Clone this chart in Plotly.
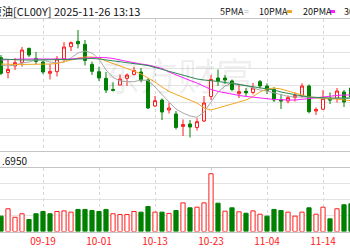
import plotly.graph_objects as go

# ---------------- data ----------------
dates = ["09-11", "09-12", "09-15", "09-16", "09-17", "09-18", "09-19", "09-22", "09-23", "09-24",
         "09-25", "09-26", "09-29", "09-30", "10-01", "10-02", "10-03", "10-06", "10-07", "10-08",
         "10-09", "10-10", "10-13", "10-14", "10-15", "10-16", "10-17", "10-20", "10-21", "10-22",
         "10-23", "10-24", "10-27", "10-28", "10-29", "10-30", "10-31", "11-03", "11-04", "11-05",
         "11-06", "11-07", "11-10", "11-11", "11-12", "11-13", "11-14", "11-17", "11-18", "11-19",
         "11-20"]

opens = [63.52, 62.19, 62.77, 63.09, 64.35, 63.45, 63.13, 62.11, 62.26, 63.40,
         64.51, 64.99, 64.72, 62.92, 62.26, 61.66, 60.66, 61.06, 61.66, 62.01,
         62.23, 61.51, 59.17, 59.71, 58.81, 58.45, 57.33, 57.55, 57.24, 57.82,
         60.03, 61.69, 61.69, 61.42, 60.28, 60.49, 60.39, 61.36, 60.97, 60.66,
         59.73, 59.62, 59.94, 60.07, 60.97, 58.72, 58.88, 59.80, 59.86, 60.43,
         60.79]
highs = [63.76, 63.31, 63.49, 64.48, 64.44, 64.03, 63.22, 62.95, 63.67, 64.93,
         64.98, 66.01, 65.11, 63.16, 62.71, 62.23, 61.29, 62.02, 62.10, 62.71,
         62.59, 61.65, 60.07, 59.85, 59.44, 58.72, 57.96, 57.91, 58.05, 60.07,
         61.96, 62.46, 61.96, 61.56, 61.15, 60.79, 61.24, 61.51, 61.21, 60.88,
         60.25, 60.12, 60.39, 61.21, 61.11, 59.04, 60.61, 60.39, 60.79, 60.61,
         61.06]
lows = [61.96, 61.66, 62.41, 62.71, 63.58, 62.91, 62.05, 61.56, 61.83, 63.16,
        64.12, 64.36, 62.82, 61.96, 61.42, 60.34, 60.48, 61.02, 60.97, 61.93,
        61.29, 58.90, 59.08, 57.91, 58.50, 57.06, 56.47, 56.34, 56.97, 57.73,
        59.71, 60.97, 61.15, 60.52, 59.89, 59.98, 60.21, 60.75, 60.25, 59.53,
        58.90, 59.41, 59.58, 59.94, 58.51, 58.36, 58.81, 59.35, 59.49, 59.08,
        59.80]
closes = [62.11, 62.46, 63.07, 64.21, 63.76, 63.18, 62.23, 62.28, 63.40, 64.48,
          64.87, 64.77, 63.27, 62.29, 61.69, 60.61, 60.57, 61.60, 61.96, 62.37,
          61.48, 58.99, 59.65, 58.63, 58.99, 57.24, 57.51, 57.28, 57.76, 59.44,
          61.56, 61.42, 61.51, 60.66, 60.46, 60.36, 60.79, 60.97, 60.57, 59.71,
          59.62, 59.92, 60.12, 60.97, 58.66, 58.86, 59.86, 59.71, 60.52, 59.53,
          59.98]

ma5 = [62.86, 62.77, 62.86, 63.04, 63.13, 63.31, 63.31, 63.13, 63.04, 63.13,
       63.49, 63.94, 64.12, 63.94, 63.40, 62.41, 61.74, 61.42, 61.36, 61.36,
       61.51, 61.47, 60.88, 60.16, 59.53, 58.90, 58.54, 58.27, 58.15, 58.63,
       59.53, 60.43, 60.97, 61.24, 61.15, 61.02, 60.79, 60.61, 60.52, 60.34,
       60.16, 60.03, 59.98, 60.01, 59.98, 59.89, 59.86, 59.80, 59.85, 59.85,
       59.89]
ma10 = [62.95, 62.91, 62.91, 62.91, 62.91, 62.91, 62.91, 62.95, 63.00, 63.13,
        63.31, 63.49, 63.58, 63.58, 63.49, 63.22, 63.00, 62.73, 62.55, 62.32,
        62.05, 61.69, 61.33, 60.88, 60.48, 60.21, 59.94, 59.71, 59.44, 58.99,
        58.81, 58.99, 59.17, 59.31, 59.47, 59.71, 60.03, 60.43, 60.70, 60.79,
        60.70, 60.52, 60.30, 60.12, 59.98, 59.92, 59.89, 59.86, 59.80, 59.71,
        59.65]
ma20 = [63.31, 63.36, 63.40, 63.40, 63.40, 63.40, 63.36, 63.36, 63.36, 63.36,
        63.40, 63.45, 63.49, 63.52, 63.54, 63.52, 63.45, 63.31, 63.18, 63.04,
        62.95, 62.86, 62.73, 62.55, 62.23, 61.96, 61.69, 61.47, 61.24, 60.97,
        60.66, 60.48, 60.34, 60.21, 60.12, 60.03, 59.98, 59.89, 59.83, 59.76,
        59.71, 59.71, 59.71, 59.76, 59.85, 59.91, 59.98, 60.07, 60.12, 60.16,
        60.16]
ma30 = [63.40, 63.36, 63.31, 63.31, 63.31, 63.31, 63.31, 63.31, 63.31, 63.31,
        63.36, 63.40, 63.45, 63.45, 63.40, 63.31, 63.27, 63.18, 63.09, 63.00,
        62.91, 62.82, 62.64, 62.46, 62.28, 62.10, 61.92, 61.74, 61.60, 61.51,
        61.47, 61.38, 61.29, 61.20, 61.11, 61.02, 60.93, 60.84, 60.70, 60.61,
        60.43, 60.30, 60.16, 60.07, 59.98, 59.94, 59.89, 59.89, 59.89, 59.89,
        59.89]

volumes = [9.6, 14.2, 8.9, 11.1, 7.5, 11.1, 12.5, 11.1, 12.5, 12.9,
           12.1, 13.8, 13.8, 13.1, 12.5, 13.8, 11.1, 10.6, 10.6, 12.5,
           12.1, 15.6, 12.1, 12.1, 11.3, 13.1, 17.9, 14.8, 15.2, 17.9,
           36.1, 17.7, 12.7, 14.8, 12.3, 11.4, 12.9, 10.8, 9.6, 13.8,
           13.1, 12.1, 9.6, 12.1, 14.8, 10.8, 15.2, 7.9, 14.2, 16.7,
           17.3]
vol_up = [0, 1, 1, 1, 0, 0, 0, 0, 1, 1,
          1, 0, 0, 0, 0, 0, 1, 1, 1, 1,
          0, 0, 1, 0, 1, 0, 1, 0, 1, 1,
          1, 0, 1, 0, 1, 0, 1, 1, 0, 0,
          0, 1, 1, 1, 0, 1, 1, 0, 1, 0,
          0]

tick_labels = ["09-19", "10-01", "10-13", "10-23", "11-04", "11-14"]
prev_label = "09-09"

title_text = "原油[CL00Y] 2025-11-26 13:13"
vol_text = ".6950"
ma_names = ["5PMA", "10PMA", "20PMA", "30PMA"]

# ---------------- style ----------------
W, H = 350, 250
RED = "#ff1a1a"
GREEN = "#008000"
MA_COLORS = ["#a9a9a9", "#f5a623", "#ff20ff", "#2f8a56"]
GRID = "#e3e3e3"
BORDER = "#c4c4c4"
FONT = "Noto Sans CJK SC, Noto Sans, sans-serif"

def fx(px):
    return px / W

def fy(py):
    return 1 - py / H

xs = list(range(len(dates)))
tick_pos = [dates.index(t) for t in tick_labels]

fig = go.Figure()

fig.add_trace(go.Candlestick(
    x=xs, open=opens, high=highs, low=lows, close=closes,
    increasing=dict(line=dict(color=RED, width=1), fillcolor="white"),
    decreasing=dict(line=dict(color=GREEN, width=1), fillcolor=GREEN),
    whiskerwidth=0, xaxis="x", yaxis="y", showlegend=False, hoverinfo="skip"))

for name, vals, col in zip(ma_names, [ma5, ma10, ma20, ma30], MA_COLORS):
    fig.add_trace(go.Scatter(x=xs, y=vals, mode="lines", name=name,
                             line=dict(color=col, width=1), xaxis="x", yaxis="y",
                             showlegend=False, hoverinfo="skip"))

fig.add_trace(go.Bar(
    x=xs, y=volumes, width=0.6,
    marker=dict(color=["white" if u else GREEN for u in vol_up],
                line=dict(color=[RED if u else GREEN for u in vol_up], width=1)),
    xaxis="x2", yaxis="y2", showlegend=False, hoverinfo="skip"))

xr = [-1 / 7.0, 50 - 1 / 7.0]
fig.update_layout(
    width=W, height=H, margin=dict(l=0, r=0, t=0, b=0),
    paper_bgcolor="white", plot_bgcolor="white",
    boxgap=0.4,
    font=dict(family=FONT, size=10, color="#000"),
    xaxis=dict(domain=[0, 1], range=xr, anchor="y", tickvals=tick_pos,
               showticklabels=False, showgrid=True, gridcolor="#d6d6d6",
               griddash="3px,3px", gridwidth=1, zeroline=False,
               showline=True, mirror=True, linecolor=BORDER, linewidth=1,
               rangeslider=dict(visible=False), ticks=""),
    yaxis=dict(domain=[fy(151), fy(19)], range=[55.12, 67.0], tick0=67.0, dtick=1.494,
               showticklabels=False, showgrid=True, gridcolor=GRID, gridwidth=1,
               zeroline=False, showline=False, ticks=""),
    xaxis2=dict(domain=[0, 1], range=xr, anchor="y2", tickvals=tick_pos,
                ticktext=tick_labels, showticklabels=True,
                tickfont=dict(color=RED, size=10, family=FONT),
                showgrid=True, gridcolor="#d6d6d6", griddash="3px,3px", gridwidth=1,
                zeroline=False, showline=True, mirror=True, linecolor=BORDER,
                linewidth=1, ticks=""),
    yaxis2=dict(domain=[fy(231.5), fy(167.5)], range=[0, 40], dtick=10,
                showticklabels=False, showgrid=True, gridcolor=GRID, gridwidth=1,
                zeroline=False, showline=False, ticks=""),
)

ann = []
ann.append(dict(text=title_text, x=fx(-11), y=fy(11.3), xref="paper", yref="paper",
                xanchor="left", yanchor="middle", showarrow=False,
                font=dict(size=11, color="#111", family=FONT)))
# watermark
ann.append(dict(text="东方财富", x=fx(178), y=fy(73), xref="paper", yref="paper",
                xanchor="center", yanchor="middle", showarrow=False,
                font=dict(size=38, color="rgba(0,0,0,0.07)", family=FONT)))
# MA legend
leg_font = dict(size=9, color="#111", family=FONT)
ann.append(dict(text=ma_names[0], x=fx(218), y=fy(11.5), xref="paper", yref="paper",
                xanchor="left", yanchor="middle", showarrow=False, font=leg_font))
ann.append(dict(text="=", x=fx(242), y=fy(11.5), xref="paper", yref="paper",
                xanchor="left", yanchor="middle", showarrow=False,
                font=dict(size=9, color=MA_COLORS[0], family=FONT)))
ann.append(dict(text=ma_names[1], x=fx(257), y=fy(11.5), xref="paper", yref="paper",
                xanchor="left", yanchor="middle", showarrow=False, font=leg_font))
ann.append(dict(text=ma_names[2], x=fx(301), y=fy(11.5), xref="paper", yref="paper",
                xanchor="left", yanchor="middle", showarrow=False, font=leg_font))
ann.append(dict(text=ma_names[3], x=fx(342), y=fy(11.5), xref="paper", yref="paper",
                xanchor="left", yanchor="middle", showarrow=False, font=leg_font))
# volume header
ann.append(dict(text=vol_text, x=fx(0), y=fy(160), xref="paper", yref="paper",
                xanchor="left", yanchor="middle", showarrow=False,
                font=dict(size=10, color="#111", family=FONT)))
# partially visible previous date label
ann.append(dict(text=prev_label, x=-1.6, y=fy(240.5), xref="x2", yref="paper",
                xanchor="center", yanchor="middle", showarrow=False,
                font=dict(size=10, color=RED, family=FONT)))
fig.update_layout(annotations=ann)

shapes = [
    dict(type="rect", xref="paper", yref="paper", x0=fx(287), x1=fx(292),
         y0=fy(13), y1=fy(10), fillcolor=MA_COLORS[1], line=dict(width=0)),
    dict(type="rect", xref="paper", yref="paper", x0=fx(330), x1=fx(335),
         y0=fy(13), y1=fy(10), fillcolor=MA_COLORS[2], line=dict(width=0)),
]
fig.update_layout(shapes=shapes)

fig.write_html("out.html")
